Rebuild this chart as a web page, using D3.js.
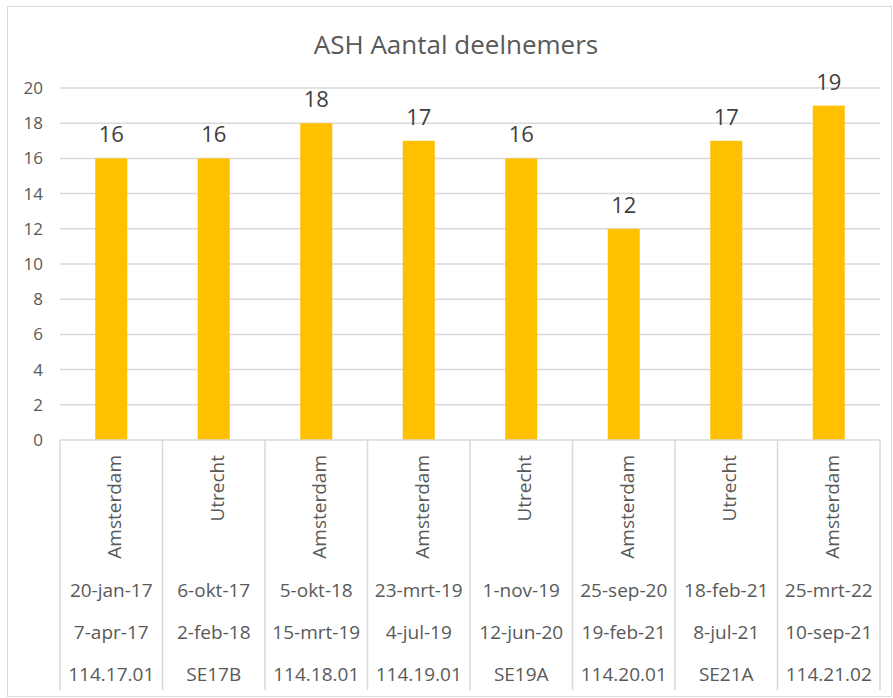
<!DOCTYPE html>
<html>
<head>
<meta charset="utf-8">
<script src="https://cdn.jsdelivr.net/npm/d3@7"></script>
<style>
  body { margin: 0; background: #fff; }
  text { font-family: "Open Sans", "Noto Sans", sans-serif; }
</style>
</head>
<body>
<svg id="chart" width="893" height="698"></svg>
<script>
// chart data
var places = ["Amsterdam", "Utrecht", "Amsterdam", "Amsterdam", "Utrecht", "Amsterdam", "Utrecht", "Amsterdam"];
var startDates = ["20-jan-17", "6-okt-17", "5-okt-18", "23-mrt-19", "1-nov-19", "25-sep-20", "18-feb-21", "25-mrt-22"];
var endDates = ["7-apr-17", "2-feb-18", "15-mrt-19", "4-jul-19", "12-jun-20", "19-feb-21", "8-jul-21", "10-sep-21"];
var codes = ["114.17.01", "SE17B", "114.18.01", "114.19.01", "SE19A", "114.20.01", "SE21A", "114.21.02"];
var participants = [16, 16, 18, 17, 16, 12, 17, 19];
var yTicks = [0, 2, 4, 6, 8, 10, 12, 14, 16, 18, 20];

var svg = d3.select("#chart");
var plot = { left: 60, right: 880, top: 88, bottom: 440 };

// outer chart frame
svg.append("rect")
    .attr("x", 7.5).attr("y", 6.5)
    .attr("width", 884).attr("height", 690)
    .attr("fill", "#fff").attr("stroke", "#d9d9d9").attr("stroke-width", 1);

svg.append("text")
    .attr("x", 456).attr("y", 54)
    .attr("text-anchor", "middle")
    .attr("font-size", 26)
    .attr("fill", "#595959")
    .text("ASH Aantal deelnemers");

var idx = d3.range(participants.length);
var x = d3.scaleBand().domain(idx).range([plot.left, plot.right]).paddingInner(0).paddingOuter(0);
var y = d3.scaleLinear().domain([0, 20]).range([plot.bottom, plot.top]);

// gridlines
svg.append("g").selectAll("line").data(yTicks.filter(function (d) { return d > 0; })).enter().append("line")
    .attr("x1", plot.left).attr("x2", plot.right)
    .attr("y1", function (d) { return y(d); }).attr("y2", function (d) { return y(d); })
    .attr("stroke", "#d9d9d9").attr("stroke-width", 1.5);

// y axis labels
svg.append("g").selectAll("text").data(yTicks).enter().append("text")
    .attr("x", 43).attr("y", function (d) { return y(d) + 6; })
    .attr("text-anchor", "end")
    .attr("font-size", 17)
    .attr("fill", "#595959")
    .text(function (d) { return d; });

// bars
var barW = 32;
svg.append("g").selectAll("rect").data(idx).enter().append("rect")
    .attr("x", function (i) { return x(i) + x.bandwidth() / 2 - barW / 2; })
    .attr("y", function (i) { return y(participants[i]); })
    .attr("width", barW)
    .attr("height", function (i) { return y(0) - y(participants[i]); })
    .attr("fill", "#ffc000");

// data labels
svg.append("g").selectAll("text").data(idx).enter().append("text")
    .attr("x", function (i) { return x(i) + x.bandwidth() / 2; })
    .attr("y", function (i) { return y(participants[i]) - 16; })
    .attr("text-anchor", "middle")
    .attr("font-size", 22)
    .attr("fill", "#404040")
    .text(function (i) { return participants[i]; });

// category axis: baseline and separators
var axisColor = "#d9d9d9";
svg.append("line")
    .attr("x1", plot.left).attr("x2", plot.right)
    .attr("y1", plot.bottom).attr("y2", plot.bottom)
    .attr("stroke", axisColor).attr("stroke-width", 1.5);
svg.append("g").selectAll("line").data(d3.range(participants.length + 1)).enter().append("line")
    .attr("x1", function (i) { return plot.left + i * x.bandwidth(); })
    .attr("x2", function (i) { return plot.left + i * x.bandwidth(); })
    .attr("y1", plot.bottom).attr("y2", 690)
    .attr("stroke", axisColor).attr("stroke-width", 1.5);

var cats = svg.append("g").attr("font-size", 19).attr("fill", "#595959");
// rotated place names
cats.selectAll("text.place").data(idx).enter().append("text")
    .attr("class", "place")
    .attr("transform", function (i) { return "translate(" + (x(i) + x.bandwidth() / 2 + 10) + ",455) rotate(-90)"; })
    .attr("text-anchor", "end")
    .text(function (i) { return places[i]; });

var rows = [[startDates, 597], [endDates, 639], [codes, 681]];
rows.forEach(function (r) {
    cats.append("g").selectAll("text").data(idx).enter().append("text")
        .attr("x", function (i) { return x(i) + x.bandwidth() / 2; })
        .attr("y", r[1])
        .attr("text-anchor", "middle")
        .text(function (i) { return r[0][i]; });
});
</script>
</body>
</html>
